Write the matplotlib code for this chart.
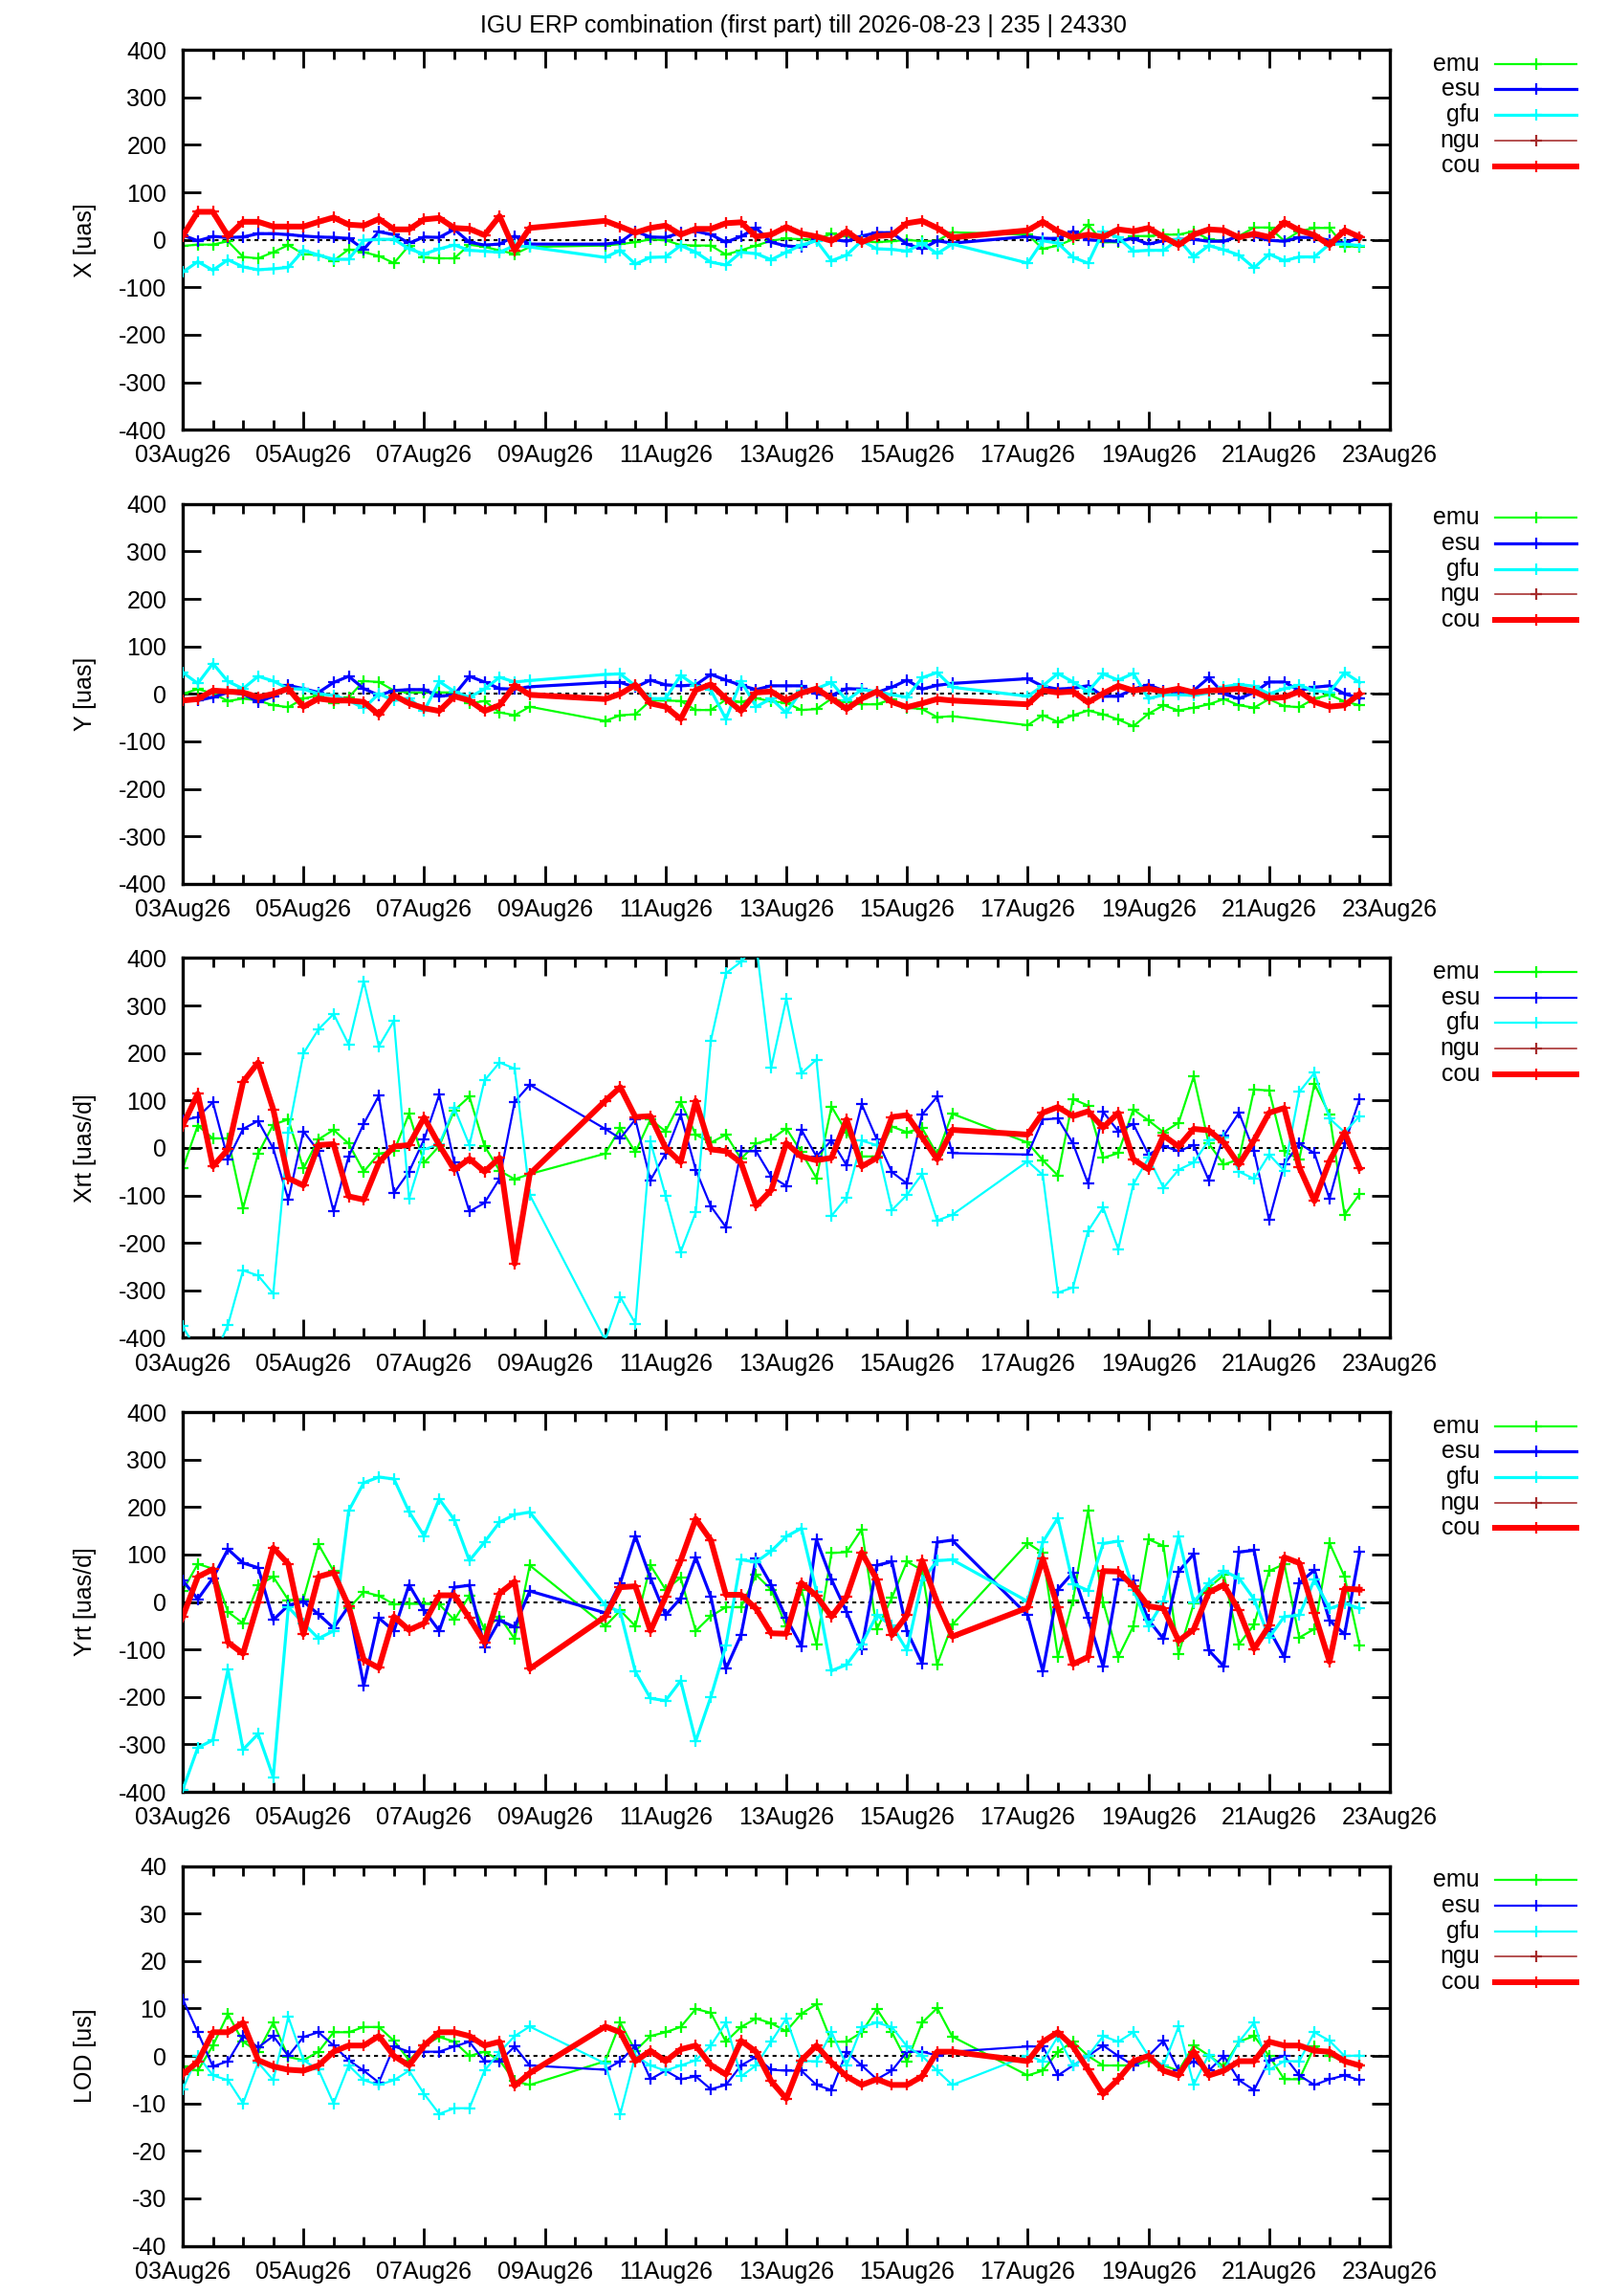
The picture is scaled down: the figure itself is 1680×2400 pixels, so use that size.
import numpy as np
import matplotlib
matplotlib.use('Agg')
import matplotlib.pyplot as plt
import matplotlib.dates as mdates
from matplotlib.lines import Line2D
from datetime import datetime, timedelta

plt.rcParams['font.family'] = ['Liberation Sans', 'DejaVu Sans']
plt.rcParams['axes.unicode_minus'] = False

title = 'IGU ERP combination (first part) till 2026-08-23 | 235 | 24330'
start = datetime(2026, 8, 3)
# epochs every 6 h, with the two data gaps of the original
day_offsets = np.concatenate([np.arange(0, 6, 0.25), np.arange(7, 13, 0.25), np.arange(14, 19.75, 0.25)])

names = ['emu', 'esu', 'gfu', 'ngu', 'cou']

# ---- X [uas]
x_emu = [-13, -10, -10, -3, -36, -39, -26, -11, -30, -32, -44, -20, -26, -34, -49, -12, -37, -39, -39, -10, -15, -22, -30, -15,
         -12, -9, -5, 1, -1, -11, -12, -12, -31, -22, -12, -2, 3,
         1, 1, 13, 8, -3, -5, -3, 0, -3, -2, 16,
         11, -19, -12, 1, 32, -5, -5, 8, 8, 11, 11, 18, 1, -2, 8, 26, 26, -2, 18, 25, 25, -14, -14]
x_esu = [10, -2, 7, 5, 6, 13, 13, 11, 8, 6, 5, 3, -20, 17, 11, -7, 6, 5, 22, -5, -11, -9, 8, -9,
         -9, -5, 18, 6, 5, 15, 18, 11, -5, 7, 25, -5, -13,
         -15, 1, 1, -3, 8, 15, 15, -9, -19, -2, -7,
         7, 3, 3, 18, 0, -2, -3, 3, -9, -2, 1, 1, -3, -3, 8, 8, -1, -3, 5, 5, -1, -7, 5]
x_gfu = [-68, -46, -64, -42, -57, -63, -61, -58, -22, -32, -41, -41, -1, 1, 1, -19, -30, -19, -11, -22, -24, -26, -12, -15,
         -37, -22, -51, -37, -36, -12, -26, -47, -53, -26, -29, -42, -26,
         -11, -2, -44, -32, -2, -19, -20, -24, -7, -29, -9,
         -49, -2, -7, -37, -49, 18, 5, -24, -22, -22, 1, -36, -12, -21, -32, -59, -30, -44, -36, -36, -9, -9, -12]
x_cou = [8, 59, 59, 8, 38, 38, 28, 28, 28, 38, 47, 32, 30, 44, 22, 22, 43, 46, 25, 23, 10, 50, -22, 25,
         40, 28, 15, 25, 30, 11, 23, 23, 35, 37, 7, 11, 27,
         13, 7, -2, 18, -5, 8, 10, 35, 40, 25, 5,
         20, 38, 18, 5, 11, 6, 22, 18, 25, 6, -11, 11, 22, 20, 5, 13, 6, 37, 20, 10, -11, 20, 6]

# ---- Y [uas]
y_emu = [0, 10, 1, -15, -10, -14, -24, -28, -10, -3, -20, -7, 27, 25, 7, 3, 3, 3, 3, -20, -15, -39, -45, -27,
         -57, -45, -43, -14, -14, -15, -34, -34, -12, -17, -9, -16, -19,
         -34, -32, -10, -17, -22, -22, -11, -29, -32, -49, -47,
         -66, -45, -59, -45, -35, -43, -54, -68, -42, -24, -35, -29, -22, -11, -24, -29, -11, -26, -28, -10, -2, -16, -24]
y_esu = [-14, -14, -7, 3, 0, -17, -5, 18, 11, 3, 24, 37, 11, -3, 7, 9, 9, -5, -2, 37, 25, 11, 10, 15,
         24, 24, 14, 29, 19, 17, 19, 41, 29, 18, 9, 17, 17,
         17, 0, -3, 11, 10, 3, 14, 29, 10, 18, 22,
         32, 16, 10, 12, 17, -5, -5, 10, 19, 7, 3, 7, 34, 0, -10, 3, 25, 25, 7, 14, 17, 0, -9]
y_gfu = [45, 22, 64, 26, 11, 37, 27, 11, 10, 0, -3, -14, -30, 0, -14, -9, -36, 26, 5, -7, 10, 35, 25, 28,
         41, 42, 17, -10, -10, 39, 17, 8, -53, 27, -27, -10, -40,
         7, 11, 24, -14, 9, 5, -2, -7, 34, 45, 14,
         -5, 17, 43, 25, 5, 42, 29, 43, -10, -2, -2, -3, 2, 15, 20, 16, 0, 11, 18, 7, 3, 45, 24]
y_cou = [-14, -11, 7, 5, 3, -7, 0, 11, -27, -10, -14, -14, -17, -44, -3, -20, -30, -36, -5, -14, -36, -24, 18, -2,
         -11, 0, 19, -20, -27, -53, 8, 20, -10, -36, 3, 5, -14,
         2, 11, -10, -32, -10, 5, -17, -28, -20, -11, -14,
         -22, 7, 3, 5, -18, 1, 17, 7, 11, 5, 11, 3, 7, 8, 11, 5, -9, -7, 5, -17, -27, -24, 0]

# ---- Xrt [uas/d]
xrt_emu = [-43, 47, 20, 20, -127, -12, 49, 60, -43, 18, 38, 9, -50, -12, -7, 72, -31, 4, 79, 108, 4, -48, -66, -55,
           -12, 42, -9, 60, 35, 97, 28, 11, 28, -23, 9, 18, 41,
           -9, -64, 87, 33, -18, -18, 45, 33, 42, -14, 72,
           11, -26, -58, 103, 89, -21, -11, 81, 58, 33, 53, 150, 9, -35, -24, 123, 121, -7, -24, 135, 70, -141, -97]
xrt_esu = [58, 65, 96, -24, 40, 57, -1, -109, 35, -7, -134, -18, 51, 110, -95, -50, 18, 112, -31, -134, -116, -65, 97, 133,
           40, 20, 60, -68, -12, 70, -46, -123, -167, -7, -7, -60, -80,
           38, -18, 16, -37, 92, 18, -51, -75, 70, 108, -11,
           -14, 60, 62, 9, -75, 76, 35, 50, -14, 4, -7, 6, -68, 26, 74, -7, -152, -35, 9, -11, -107, 9, 103]
xrt_gfu = [-376, -430, -445, -373, -258, -269, -307, 33, 199, 250, 282, 218, 351, 214, 268, -107, -3, 8, 84, 6, 142, 180, 167, -99,
           -405, -314, -370, 13, -100, -219, -136, 226, 368, 392, 430, 169, 314,
           157, 186, -143, -104, 15, 6, -131, -99, -55, -153, -141,
           -28, -57, -305, -294, -175, -126, -213, -77, -21, -84, -46, -31, 16, 22, -50, -65, -14, -48, 118, 158, 62, 33, 67]
xrt_cou = [47, 114, -39, -3, 139, 180, 81, -64, -79, 6, 8, -102, -109, -31, 3, 6, 64, 6, -46, -23, -50, -21, -244, -55,
           99, 128, 65, 67, 0, -30, 99, -3, -7, -31, -122, -89, 10,
           -18, -26, -21, 60, -39, -21, 65, 69, 23, -24, 38,
           28, 74, 86, 67, 77, 43, 74, -24, -45, 26, 3, 40, 37, 11, -35, 16, 74, 84, -41, -112, -28, 33, -43]

# ---- Yrt [uas/d]
yrt_emu = [24, 80, 70, -21, -45, 35, 53, 4, 6, 121, 65, -14, 21, 13, -5, -4, -4, -5, -38, 13, -58, -31, -78, 77,
           -51, -18, -51, 77, 26, 51, -61, -30, -11, -11, 57, 26, -52,
           26, -89, 103, 105, 153, -58, 9, 85, 67, -132, -48,
           124, 103, -116, 3, 192, -1, -116, -51, 132, 118, -109, -4, 30, 57, -89, -48, 65, 80, -75, -57, 124, 53, -92]
yrt_esu = [45, 6, 50, 111, 82, 72, -38, -7, 1, -26, -55, -9, -176, -34, -61, 36, -18, -61, 31, 35, -95, -39, -53, 23,
           -23, 40, 139, 50, -28, 8, 94, 11, -141, -70, 92, 36, -34,
           -93, 131, 47, -21, -99, 77, 85, -61, -129, 126, 130,
           -28, -146, 26, 62, -34, -136, 47, 45, -38, -78, 64, 101, -102, -136, 105, 109, -58, -116, 40, 67, -39, -68, 105]
yrt_gfu = [-396, -307, -291, -143, -311, -278, -369, -11, -45, -77, -61, 192, 251, 263, 259, 190, 139, 217, 173, 87, 126, 168, 184, 189,
           -7, -21, -147, -203, -208, -166, -293, -200, -92, 89, 84, 107, 138,
           155, 22, -145, -132, -89, -28, -50, -102, 45, 87, 89,
           1, 126, 177, 38, 24, 123, 128, 26, -51, 1, 138, -1, 40, 65, 50, 6, -75, -31, -28, 47, -14, -3, -14]
yrt_cou = [-32, 53, 69, -85, -109, -1, 114, 80, -68, 53, 62, -9, -122, -139, -31, -59, -45, 14, 14, -34, -85, 18, 43, -141,
           -31, 31, 33, -61, 11, 87, 175, 130, 15, 15, -14, -66, -67,
           40, 13, -31, 11, 104, 47, -70, -28, 87, -1, -73,
           -12, 91, -12, -131, -116, 65, 64, 33, -9, -14, -82, -58, 20, 36, -18, -99, -50, 94, 82, -24, -126, 28, 26]

# ---- LOD [us]
lod_emu = [-2.2, -3.1, 2.2, 8.8, 3.0, 0.9, 7.0, -0.2, -0.9, 0.9, 5.0, 5.0, 6.1, 6.1, 3.2, -0.9, 2.2, 4.0, 3.0, 0.0, 0.9, -0.9, -5.3, -6.1,
           -1.1, 7.0, 1.1, 4.2, 5.0, 6.1, 9.9, 9.1, 3.0, 6.1, 7.9, 6.9, 5.2,
           8.9, 10.9, 3.0, 3.0, 5.0, 9.9, 5.0, -1.2, 7.0, 10.1, 4.1,
           -4.1, -3.1, 0.9, 3.0, 0.0, -2.0, -2.0, -2.0, -1.1, -2.0, -3.1, 2.2, 0.1, -2.2, 3.0, 4.2, 0.0, -4.9, -4.9, 2.0, 0.1, -1.1, -2.0]
lod_esu = [12.0, 5.0, -2.2, -1.1, 4.2, 1.8, 4.2, 0.0, 4.0, 5.0, 2.2, -0.9, -3.1, -5.6, 2.0, 0.9, 0.9, 0.9, 2.0, 3.0, -1.1, -1.1, 2.0, -2.0,
           -2.9, -1.1, 2.2, -4.9, -3.1, -4.9, -4.3, -7.0, -6.1, -2.0, -0.2, -2.9, -3.1,
           -3.1, -6.1, -7.2, 0.9, -2.0, -4.9, -3.1, 0.9, 0.9, 0.1, 0.9,
           2.0, 2.0, -4.1, -2.0, 0.0, 2.2, 0.0, -2.0, 0.0, 3.2, -3.1, -1.1, -3.1, 0.0, -5.1, -7.2, -0.9, 0.0, -4.1, -6.1, -4.9, -4.1, -5.1]
lod_gfu = [-7.0, 0.1, -4.1, -5.1, -10.0, -1.4, -5.1, 8.2, -0.9, -2.9, -10.0, -2.0, -5.1, -6.1, -5.1, -3.1, -8.0, -12.2, -11.0, -11.0, -3.1, 0.8, 4.2, 6.2,
           -1.6, -12.2, 0.1, -2.0, -3.1, -2.0, -0.9, 2.2, 7.0, -4.3, -2.0, 3.0, 7.9,
           -1.1, -1.1, 5.0, -2.0, 6.1, 7.0, 6.1, 2.0, 0.0, -3.1, -6.1,
           0.1, -1.1, 4.1, -2.0, 0.0, 4.2, 3.0, 5.0, 0.0, -2.0, 6.2, -6.1, 0.3, -3.1, 3.0, 7.0, -2.9, -1.1, -1.1, 5.0, 3.2, 0.0, 0.1]
lod_cou = [-3.9, -1.2, 5.0, 5.0, 7.0, -0.9, -2.2, -2.9, -3.1, -2.0, 0.9, 2.2, 2.2, 4.2, 0.0, -2.0, 2.2, 5.0, 5.0, 4.2, 2.2, 3.0, -6.3, -3.6,
           6.2, 5.0, -1.1, 1.1, -1.1, 1.4, 2.2, -1.9, -3.9, 3.2, 0.9, -5.3, -9.0,
           -0.9, 2.2, -1.4, -4.3, -6.1, -4.9, -6.1, -6.1, -4.3, 0.9, 0.9,
           -1.1, 3.0, 5.0, 2.0, -2.9, -8.0, -4.9, -1.1, 0.0, -3.1, -4.1, 0.9, -4.1, -3.1, -1.1, -1.1, 3.0, 2.2, 2.2, 1.1, 0.9, -1.1, -2.0]

panels = [
    ('X [uas]', 400, 100, [x_emu, x_esu, x_gfu, None, x_cou]),
    ('Y [uas]', 400, 100, [y_emu, y_esu, y_gfu, None, y_cou]),
    ('Xrt [uas/d]', 400, 100, [xrt_emu, xrt_esu, xrt_gfu, None, xrt_cou]),
    ('Yrt [uas/d]', 400, 100, [yrt_emu, yrt_esu, yrt_gfu, None, yrt_cou]),
    ('LOD [us]', 40, 10, [lod_emu, lod_esu, lod_gfu, None, lod_cou]),
]

colors = ['#00ff00', '#0000ff', '#00ffff', '#a52a2a', '#ff0000']
thick = [True, True, False, True, False]   # esu/gfu drawn heavier in some panels

times = [start + timedelta(days=float(d)) for d in day_offsets]

W, H = 1680, 2400
fig = plt.figure(figsize=(W / 100, H / 100), dpi=100)
fig.text(0.5, 1 - 27 / H, title, ha='center', va='center', fontsize=18)

left, right = 191, 1453
for k, (ylab, lim, step, series) in enumerate(panels):
    top_px = 52.2 + 474.6 * k
    ax = fig.add_axes([left / W, 1 - (top_px + 397) / H, (right - left) / W, 397 / H])

    widths = [2.2, 3.2 if thick[k] else 2.2, 3.2 if thick[k] else 2.2, 1.6, 6.0]
    ax.axhline(0, color='black', lw=1.5, ls=(0, (2, 2)), zorder=1)
    for i, vals in enumerate(series):
        if vals is None:
            continue
        ax.plot(times, vals, color=colors[i], lw=widths[i] * 0.72, marker='+',
                ms=8, mew=1.6, zorder=2 + i)

    ax.set_xlim(start, start + timedelta(days=20))
    ax.set_ylim(-lim, lim)
    ax.set_yticks(np.arange(-lim, lim + step, step))
    ax.xaxis.set_major_locator(mdates.DayLocator(bymonthday=range(1, 32, 2)))
    ax.xaxis.set_minor_locator(mdates.HourLocator(byhour=[0, 12]))
    ax.xaxis.set_major_formatter(mdates.DateFormatter('%d%b%y'))
    ax.tick_params(which='both', direction='in', top=True, right=True, width=2, labelsize=18)
    ax.tick_params(which='major', length=14)
    ax.tick_params(which='minor', length=7)
    ax.tick_params(axis='y', pad=12)
    ax.tick_params(axis='x', pad=11)
    for sp in ax.spines.values():
        sp.set_linewidth(2.4)
    ax.set_ylabel(ylab, fontsize=18, va='center')
    ax.yaxis.set_label_coords(-0.081, 0.5)

    # key, gnuplot style: text right aligned, sample line with one point
    for i, name in enumerate(names):
        yk = 1 - (top_px + 14.5 + 26.7 * i) / H
        fig.text(1547 / W, yk, name, ha='right', va='center', fontsize=18)
        fig.add_artist(Line2D([1563 / W, 1648 / W], [yk, yk], color=colors[i],
                              lw=widths[i] * 0.72, transform=fig.transFigure))
        fig.add_artist(Line2D([1605.5 / W], [yk], color=colors[i], marker='+',
                              ms=8, mew=1.6, transform=fig.transFigure))

fig.savefig('out.png', dpi=100)
